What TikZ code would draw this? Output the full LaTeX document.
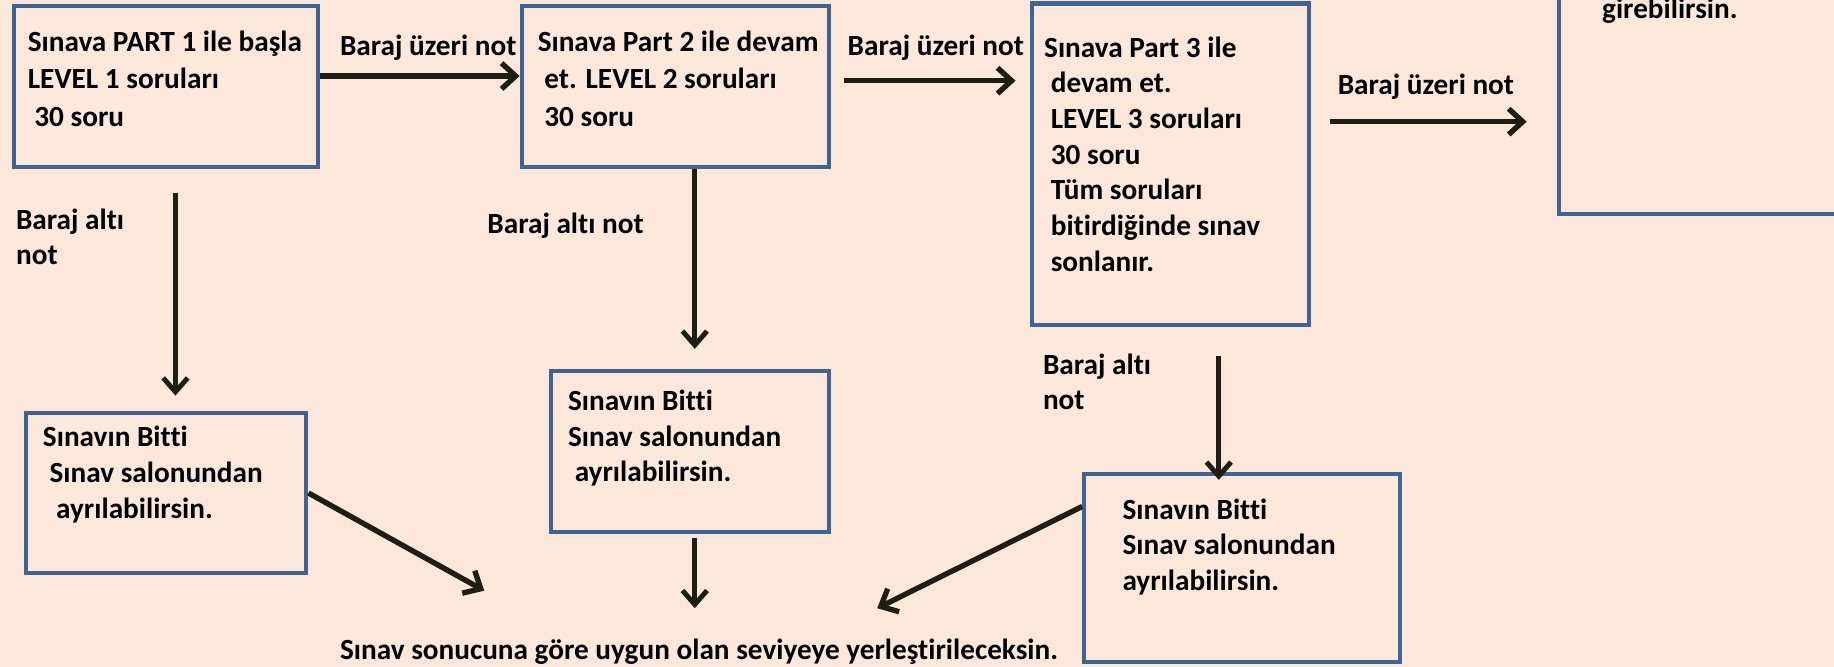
\documentclass[tikz,border=0pt]{standalone}
\usepackage{fontspec}
\setmainfont{Carlito}[Ligatures=NoCommon]
\usetikzlibrary{arrows.meta,positioning}
\definecolor{bgpeach}{HTML}{FCE8DA}
\definecolor{boxblue}{HTML}{3F6494}
\definecolor{arrdark}{HTML}{1F1D14}
\tikzset{font=\fontsize{25}{30.5}\selectfont\bfseries}
\tikzstyle{stepbox}=[draw=boxblue,line width=3.5pt,inner sep=0pt]
\tikzstyle{txt}=[anchor=north west,align=left,inner sep=0pt,text=black,execute at begin node=\strut]
\tikzstyle{widetxt}=[txt,font=\fontsize{25}{32}\selectfont\bfseries]
\tikzset{every picture/.style={line width=3.5pt}}

\begin{document}
\begin{tikzpicture}[x=1pt,y=-1pt]
\useasboundingbox (0,0) rectangle (1568,570);
\clip (0,0) rectangle (1568,570);
\fill[bgpeach] (0,0) rectangle (1568,570);
% boxes
\node[stepbox,minimum width=260,minimum height=138] (p1) at (142,74) {};
\node[stepbox,minimum width=263,minimum height=138] (p2) at (577.5,74) {};
\node[stepbox,minimum width=237,minimum height=275] (p3) at (1000.5,140.5) {};
\node[stepbox,minimum width=247,minimum height=243] (p4) at (1456.5,61.5) {};
\node[stepbox,minimum width=240,minimum height=137] (p5) at (142,421.5) {};
\node[stepbox,minimum width=238,minimum height=138] (p6) at (590,386) {};
\node[stepbox,minimum width=270,minimum height=161] (p7) at (1062,485.5) {};
% box texts
\node[widetxt] (t1) at (22,24.6) {Sınava PART 1 ile başla\\LEVEL 1 soruları\\\ 30 soru};
\node[widetxt] (t2) at (458,24.6) {Sınava Part 2 ile devam\\\ et. LEVEL 2 soruları\\\ 30 soru};
\node[txt] (t3) at (891,29.6) {Sınava Part 3 ile\\\ devam et.\\\ LEVEL 3 soruları\\\ 30 soru\\\ Tüm soruları\\\ bitirdiğinde sınav\\\ sonlanır.};
\node[txt] (t4) at (1368,-7.4) {girebilirsin.};
\node[txt] (t5) at (35,362.6) {Sınavın Bitti\\\ Sınav salonundan\\\ \ ayrılabilirsin.};
\node[txt] (t6) at (484,331.6) {Sınavın Bitti\\Sınav salonundan\\\ ayrılabilirsin.};
\node[txt] (t7) at (958,424.6) {Sınavın Bitti\\Sınav salonundan\\ayrılabilirsin.};
% labels
\node[txt] (l1) at (289,24.6) {Baraj üzeri not};
\node[txt] (l2) at (723,24.6) {Baraj üzeri not};
\node[txt] (l3) at (1142,57.6) {Baraj üzeri not};
\node[txt] (l4) at (12,176.6) {Baraj altı\\not};
\node[txt] (l5) at (415,176.6) {Baraj altı not};
\node[txt] (l6) at (890,300.6) {Baraj altı\\not};
\node[txt] (res) at (289,540.6) {Sınav sonucuna göre uygun olan seviyeye yerleştirileceksin.};
% free ends
\coordinate (e1) at (414,505);
\coordinate (e2) at (594,520);
\coordinate (e3) at (750,520);
\path[->,every edge/.style={draw,arrdark,line width=4.6pt},>={Straight Barb[length=12pt,width=22pt]}]
([yshift=9]p1.east) edge ([yshift=9]p2.west)
([yshift=5]p2.east) edge[shorten <=11pt,shorten >=12pt] ([yshift=71.5]p3.west)
([yshift=36.5]p3.east) edge[shorten <=16pt,shorten >=26pt] ([yshift=-42.5]p4.west)
(p5.east) edge (e1)
([yshift=52.5]p7.west) edge (e3);
\path[->,every edge/.style={draw,arrdark,line width=4.2pt},>={Straight Barb[length=12pt,width=21pt]}]
([xshift=8]p1.south) edge[shorten <=20pt,shorten >=13pt] ([xshift=8]p5.north)
([xshift=16.5]p2.south) edge[shorten >=17pt] ([xshift=4]p6.north)
([xshift=41.5]p3.south) edge[shorten <=25pt,shorten >=-7pt] ([xshift=-20]p7.north)
([xshift=4]p6.south) edge[shorten <=3pt] (e2);
\end{tikzpicture}
\end{document}
